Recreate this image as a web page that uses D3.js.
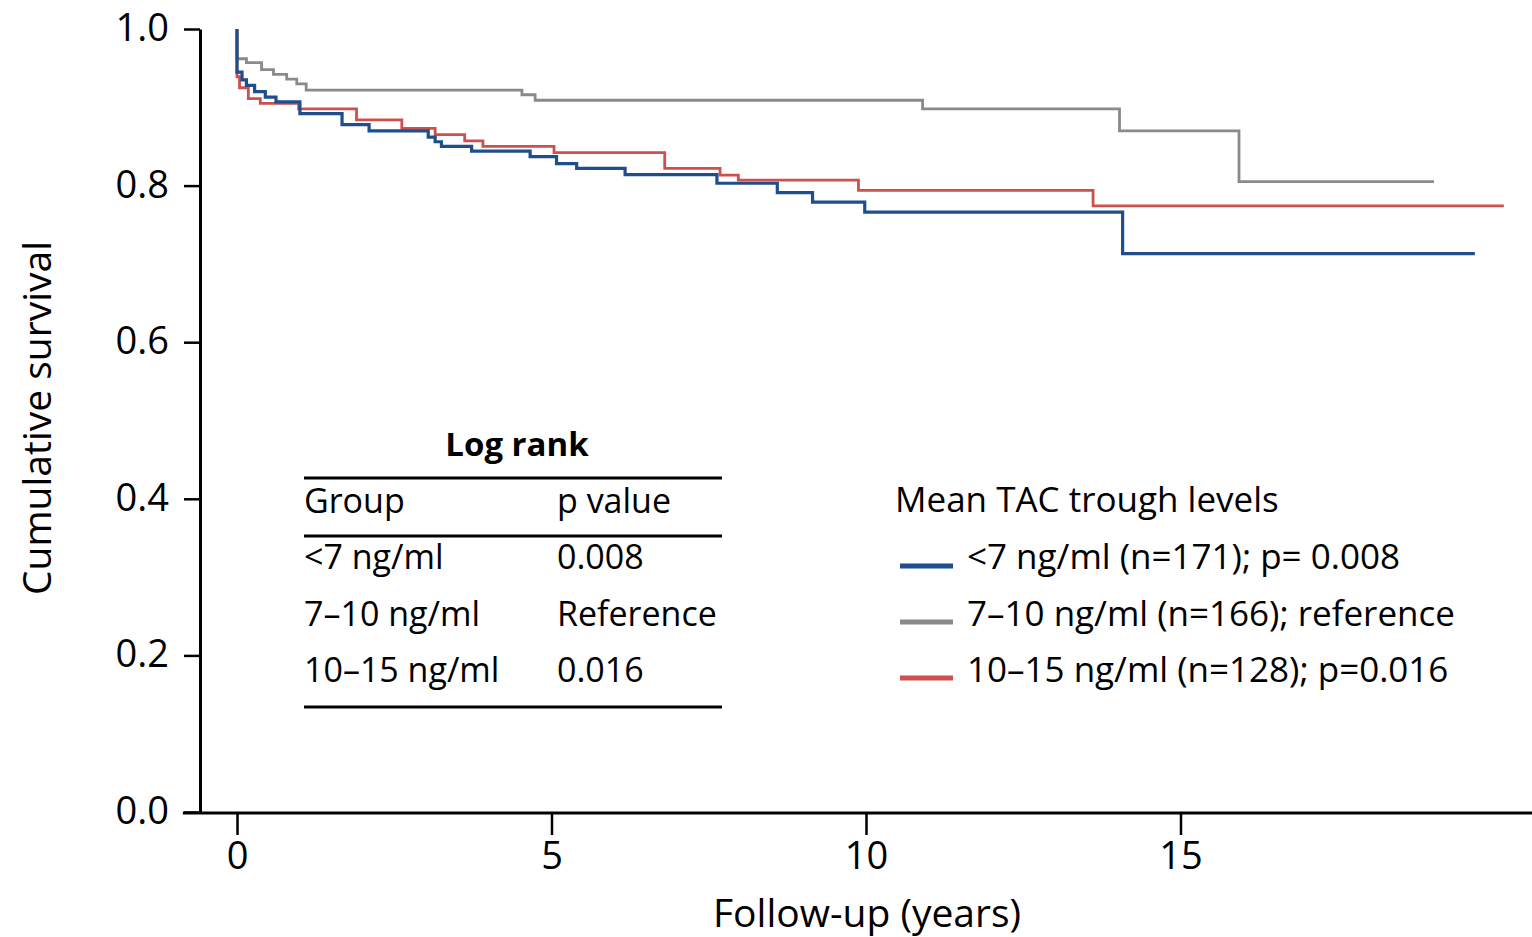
<!DOCTYPE html>
<html>
<head>
<meta charset="utf-8">
<script src="https://cdn.jsdelivr.net/npm/d3@7"></script>
<style>
  html, body { margin: 0; padding: 0; background: #fff; }
  svg { display: block; font-family: "Open Sans", "Lato", sans-serif; }
</style>
</head>
<body>
<svg id="chart" width="1532" height="937"></svg>
<script>
// Kaplan–Meier step curves: [years, cumulative survival] at each event
const groupLow = [[0, 1.0], [0, 0.945], [0.08, 0.935], [0.15, 0.928], [0.28, 0.920], [0.45, 0.913],
  [0.62, 0.907], [1.0, 0.892], [1.67, 0.878], [2.1, 0.870], [3.04, 0.862], [3.15, 0.856],
  [3.25, 0.850], [3.73, 0.844], [4.66, 0.837], [5.08, 0.828], [5.40, 0.822], [6.17, 0.814],
  [7.63, 0.803], [8.59, 0.791], [9.15, 0.779], [9.98, 0.766], [14.08, 0.713], [19.68, 0.713]];
const groupRef = [[0, 1.0], [0, 0.962], [0.15, 0.957], [0.39, 0.948], [0.58, 0.942], [0.79, 0.936],
  [0.95, 0.930], [1.10, 0.922], [4.53, 0.916], [4.74, 0.909], [10.90, 0.898], [14.03, 0.870],
  [15.93, 0.805], [19.03, 0.805]];
const groupHigh = [[0, 1.0], [0, 0.939], [0.04, 0.925], [0.18, 0.911], [0.37, 0.905], [0.98, 0.898],
  [1.9, 0.884], [2.62, 0.873], [3.15, 0.865], [3.62, 0.857], [3.91, 0.850], [5.04, 0.842],
  [6.80, 0.822], [7.68, 0.8135], [7.97, 0.807], [9.88, 0.794], [13.61, 0.774], [20.14, 0.774]];

const xTicks = [0, 5, 10, 15];
const yTicks = [0, 0.2, 0.4, 0.6, 0.8, 1.0];

const legendTitle = "Mean TAC trough levels";
const legendLabels = ["<7 ng/ml (n=171); p= 0.008", "7\u201310 ng/ml (n=166); reference", "10\u201315 ng/ml (n=128); p=0.016"];
const seriesColors = ["#1f4e8c", "#8a8a8a", "#cd504e"];

const tableTitle = "Log rank";
const tableHeader = ["Group", "p value"];
const tableGroups = ["<7 ng/ml", "7\u201310 ng/ml", "10\u201315 ng/ml"];
const tablePValues = ["0.008", "Reference", "0.016"];

const FS = 34;       // table text
const LEG_FS = 35;   // legend text
const AXIS_FS = 38;  // tick labels
const TITLE_FS = 39; // axis titles
const svg = d3.select("#chart");
const x = d3.scaleLinear().domain([0, 20]).range([237, 1495]);
const y = d3.scaleLinear().domain([0, 1]).range([812, 29]);

// axes
const yAxis = d3.axisLeft(y).tickValues(yTicks).tickFormat(d3.format(".1f")).tickSize(16).tickSizeOuter(0);
const gy = svg.append("g").attr("transform", "translate(200,0)").call(yAxis).attr("font-family", null);
gy.select(".domain").attr("stroke-width", 3);
gy.selectAll(".tick line").attr("stroke-width", 2.5);
gy.selectAll(".tick text").attr("font-size", AXIS_FS).attr("x", -31).attr("dy", "0.3em").attr("fill", "#000");

const xAxis = d3.axisBottom(x).tickValues(xTicks).tickSize(22).tickSizeOuter(0);
const gx = svg.append("g").attr("transform", "translate(0,813)").call(xAxis).attr("font-family", null);
gx.select(".domain").remove();
gx.selectAll(".tick line").attr("stroke-width", 2.5);
gx.selectAll(".tick text").attr("font-size", AXIS_FS).attr("y", 29).attr("dy", "0.71em").attr("fill", "#000");
svg.append("line")
  .attr("x1", x(-0.86)).attr("x2", 1532)
  .attr("y1", 813).attr("y2", 813)
  .attr("stroke", "#000").attr("stroke-width", 3);

// axis titles
svg.append("text").attr("transform", "translate(51,418) rotate(-90)")
  .attr("text-anchor", "middle").attr("font-size", TITLE_FS).text("Cumulative survival");
svg.append("text").attr("x", 867).attr("y", 927)
  .attr("text-anchor", "middle").attr("font-size", TITLE_FS).text("Follow-up (years)");

// survival curves
const line = d3.line().x(d => x(d[0])).y(d => y(d[1])).curve(d3.curveStepAfter);
[[groupRef, 1, 2.8], [groupHigh, 2, 2.8], [groupLow, 0, 3.2]].forEach(([data, ci, w]) => {
  svg.append("path").datum(data).attr("d", line)
    .attr("fill", "none").attr("stroke", seriesColors[ci]).attr("stroke-width", w)
    .attr("stroke-linejoin", "miter");
});

// log rank table
const tbl = svg.append("g");
tbl.append("text").attr("x", 517).attr("y", 456).attr("text-anchor", "middle")
  .attr("font-size", FS - 1).attr("font-weight", "bold").text(tableTitle);
[478, 536, 707].forEach(ly => tbl.append("line").attr("x1", 304).attr("x2", 722)
  .attr("y1", ly).attr("y2", ly).attr("stroke", "#000").attr("stroke-width", 3));
tbl.append("text").attr("x", 304).attr("y", 513).attr("font-size", FS).text(tableHeader[0]);
tbl.append("text").attr("x", 557).attr("y", 513).attr("font-size", FS).text(tableHeader[1]);
tableGroups.forEach((g, i) => {
  tbl.append("text").attr("x", 304).attr("y", 569 + i * 56.5).attr("font-size", FS).text(g);
  tbl.append("text").attr("x", 557).attr("y", 569 + i * 56.5).attr("font-size", FS).text(tablePValues[i]);
});

// legend
const leg = svg.append("g");
leg.append("text").attr("x", 895).attr("y", 512).attr("font-size", LEG_FS).text(legendTitle);
legendLabels.forEach((lab, i) => {
  const ly = 566 + i * 56;
  leg.append("line").attr("x1", 900).attr("x2", 953).attr("y1", ly).attr("y2", ly)
    .attr("stroke", seriesColors[i]).attr("stroke-width", 5);
  leg.append("text").attr("x", 967).attr("y", 569 + i * 56.5).attr("font-size", LEG_FS).text(lab);
});
</script>
</body>
</html>
